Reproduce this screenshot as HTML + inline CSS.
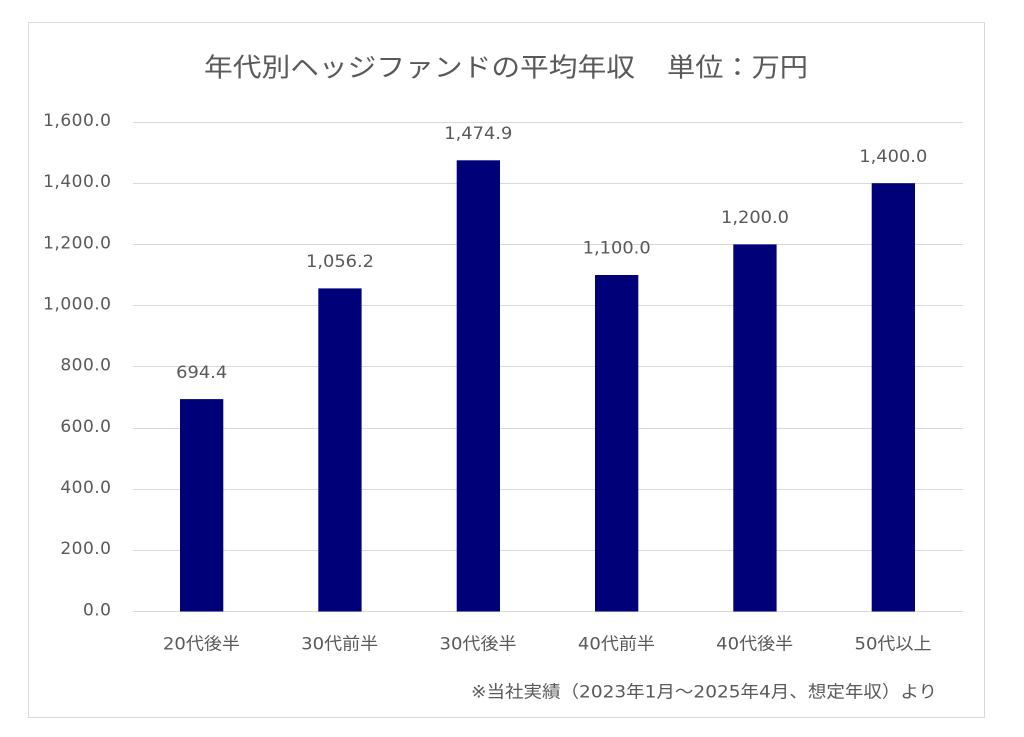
<!DOCTYPE html>
<html>
<head>
<meta charset="utf-8">
<style>
  html, body { margin: 0; padding: 0; background: #ffffff; }
  svg { display: block; }
  text { font-family: "DejaVu Sans", "Noto Sans CJK JP", sans-serif; fill: #595959; }
  .jp { font-family: "Noto Sans CJK JP", "DejaVu Sans", sans-serif; }
  .num { letter-spacing: 0.5px; }
</style>
</head>
<body>
<svg width="1024" height="737" viewBox="0 0 1024 737" xmlns="http://www.w3.org/2000/svg">
  <rect x="0" y="0" width="1024" height="737" fill="#ffffff"/>
  <rect x="28.5" y="22.5" width="956" height="695" fill="#ffffff" stroke="#d9d9d9" stroke-width="1"/>

  <!-- Title -->
  <text class="jp" x="204" y="76.5" font-size="26" textLength="431" lengthAdjust="spacingAndGlyphs">年代別ヘッジファンドの平均年収</text>
  <text class="jp" x="667" y="76.5" font-size="26" textLength="141" lengthAdjust="spacingAndGlyphs">単位：万円</text>

  <!-- Gridlines -->
  <g stroke="#d9d9d9" stroke-width="1">
    <line x1="133" x2="963" y1="122.5" y2="122.5"/>
    <line x1="133" x2="963" y1="183.5" y2="183.5"/>
    <line x1="133" x2="963" y1="244.5" y2="244.5"/>
    <line x1="133" x2="963" y1="305.5" y2="305.5"/>
    <line x1="133" x2="963" y1="366.5" y2="366.5"/>
    <line x1="133" x2="963" y1="428.5" y2="428.5"/>
    <line x1="133" x2="963" y1="489.5" y2="489.5"/>
    <line x1="133" x2="963" y1="550.5" y2="550.5"/>
    <line x1="133" x2="963" y1="611.5" y2="611.5"/>
  </g>

  <!-- Y tick labels -->
  <g font-size="17" text-anchor="end" class="num">
    <text x="111.5" y="126">1,600.0</text>
    <text x="111.5" y="187">1,400.0</text>
    <text x="111.5" y="248.5">1,200.0</text>
    <text x="111.5" y="309.5">1,000.0</text>
    <text x="111.5" y="370.5">800.0</text>
    <text x="111.5" y="432">600.0</text>
    <text x="111.5" y="493">400.0</text>
    <text x="111.5" y="554">200.0</text>
    <text x="111.5" y="615.5">0.0</text>
  </g>

  <!-- Bars -->
  <g fill="#000078">
    <rect x="180.0" y="399.1" width="43.3" height="212.4"/>
    <rect x="318.3" y="288.4" width="43.3" height="323.1"/>
    <rect x="456.7" y="160.3" width="43.3" height="451.2"/>
    <rect x="595.0" y="275.0" width="43.3" height="336.5"/>
    <rect x="733.3" y="244.4" width="43.3" height="367.1"/>
    <rect x="871.7" y="183.2" width="43.3" height="428.3"/>
  </g>

  <!-- Data labels -->
  <g font-size="17" text-anchor="middle">
    <text x="201.7" y="377.8" textLength="51" lengthAdjust="spacingAndGlyphs">694.4</text>
    <text x="340.0" y="267.1" textLength="68" lengthAdjust="spacingAndGlyphs">1,056.2</text>
    <text x="478.3" y="139.0" textLength="68" lengthAdjust="spacingAndGlyphs">1,474.9</text>
    <text x="616.7" y="253.7" textLength="68" lengthAdjust="spacingAndGlyphs">1,100.0</text>
    <text x="755.0" y="223.1" textLength="68" lengthAdjust="spacingAndGlyphs">1,200.0</text>
    <text x="893.3" y="161.9" textLength="68" lengthAdjust="spacingAndGlyphs">1,400.0</text>
  </g>

  <!-- Category labels -->
  <g font-size="17" text-anchor="middle">
    <text x="201.4" y="649.5" textLength="77" lengthAdjust="spacingAndGlyphs">20代後半</text>
    <text x="339.7" y="649.5" textLength="77" lengthAdjust="spacingAndGlyphs">30代前半</text>
    <text x="478.0" y="649.5" textLength="77" lengthAdjust="spacingAndGlyphs">30代後半</text>
    <text x="616.4" y="649.5" textLength="77" lengthAdjust="spacingAndGlyphs">40代前半</text>
    <text x="754.7" y="649.5" textLength="77" lengthAdjust="spacingAndGlyphs">40代後半</text>
    <text x="893.0" y="649.5" textLength="77" lengthAdjust="spacingAndGlyphs">50代以上</text>
  </g>

  <!-- Footnote -->
  <text x="471" y="697.5" font-size="17" textLength="466" lengthAdjust="spacingAndGlyphs">※当社実績（2023年1月～2025年4月、想定年収）より</text>
</svg>
</body>
</html>
